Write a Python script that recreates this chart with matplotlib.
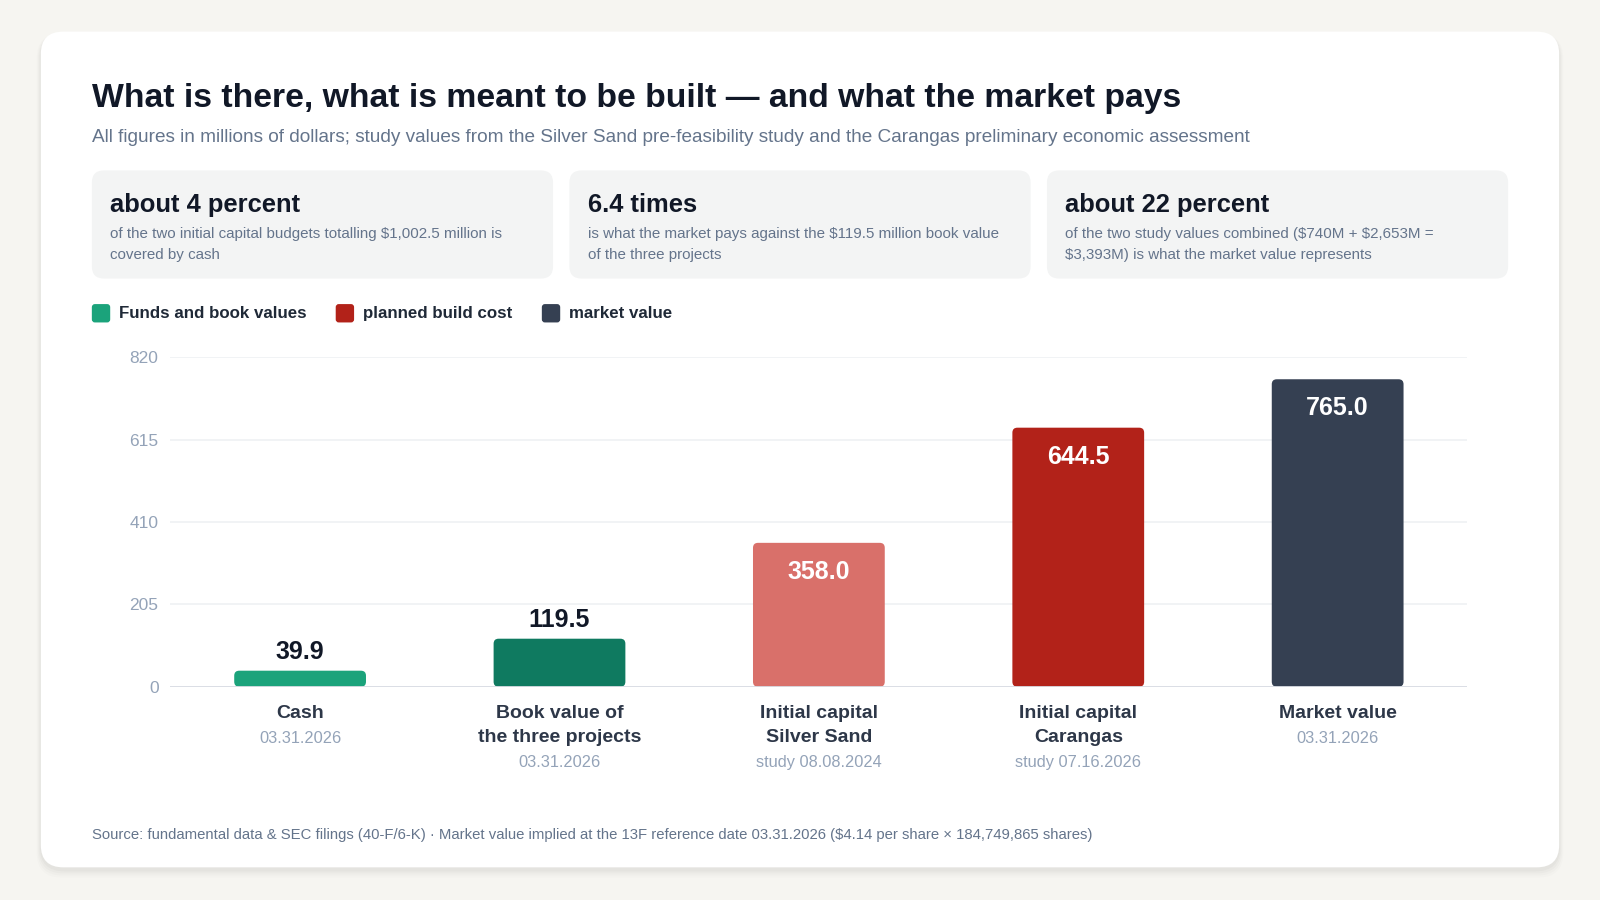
import matplotlib
matplotlib.use("Agg")
import matplotlib.pyplot as plt
from matplotlib.patches import FancyBboxPatch
import matplotlib.transforms as mtransforms

plt.rcParams['font.family'] = ['Liberation Sans', 'DejaVu Sans']

# ---------------- data ----------------
categories = ["Cash", "Book value of\nthe three projects", "Initial capital\nSilver Sand",
              "Initial capital\nCarangas", "Market value"]
dates = ["03.31.2026", "03.31.2026", "study 08.08.2024", "study 07.16.2026", "03.31.2026"]
values = [39.9, 119.5, 358.0, 644.5, 765.0]
bar_colors = ["#1ba37b", "#0f7a60", "#d9706a", "#b22219", "#354052"]
yticks = [0, 205, 410, 615, 820]

legend_labels = ["Funds and book values", "planned build cost", "market value"]
legend_colors = ["#1ba37b", "#b22219", "#354052"]

kpi_heads = ["about 4 percent", "6.4 times", "about 22 percent"]
kpi_bodies = [
    "of the two initial capital budgets totalling $1,002.5 million is\ncovered by cash",
    "is what the market pays against the $119.5 million book value\nof the three projects",
    "of the two study values combined ($740M + $2,653M =\n$3,393M) is what the market value represents",
]

title = "What is there, what is meant to be built \u2014 and what the market pays"
subtitle = ("All figures in millions of dollars; study values from the Silver Sand pre-feasibility "
            "study and the Carangas preliminary economic assessment")
source = ("Source: fundamental data & SEC filings (40-F/6-K) \u00b7 Market value implied at the 13F "
          "reference date 03.31.2026 ($4.14 per share \u00d7 184,749,865 shares)")

# ---------------- figure ----------------
W, H = 1568, 882
fig = plt.figure(figsize=(16, 9), dpi=100)
fig.patch.set_facecolor("#f6f5f1")

bg = fig.add_axes([0, 0, 1, 1])
bg.set_xlim(0, W)
bg.set_ylim(H, 0)
bg.axis("off")
bg.set_zorder(0)

# card shadow
for i, a in enumerate([0.025, 0.02, 0.015, 0.01]):
    off = 2 + i * 2
    bg.add_patch(FancyBboxPatch((40 - off / 2, 31 + 2), 1488 + off, 819 + off,
                                boxstyle="round,pad=0,rounding_size=24",
                                fc="black", ec="none", alpha=a))
bg.add_patch(FancyBboxPatch((40, 31), 1488, 819, boxstyle="round,pad=0,rounding_size=22",
                            fc="white", ec="none"))

# title/subtitle
bg.text(90, 97, title, fontsize=24.3, fontweight="bold", color="#111827", va="center",
        ha="left", parse_math=False)
bg.text(90, 134.5, subtitle, fontsize=13.7, color="#64748b", va="center", ha="left",
        parse_math=False)

# KPI boxes
kpi_x = [90, 558, 1026]
for x0, head, body in zip(kpi_x, kpi_heads, kpi_bodies):
    bg.add_patch(FancyBboxPatch((x0, 167), 452, 106, boxstyle="round,pad=0,rounding_size=12",
                                fc="#f3f4f4", ec="none"))
    bg.text(x0 + 18, 198.5, head, fontsize=18.4, fontweight="bold", color="#111827",
            va="center_baseline", ha="left", parse_math=False)
    for j, line in enumerate(body.split("\n")):
        bg.text(x0 + 18, 229 + j * 21, line, fontsize=10.9, color="#64748b",
                va="center", ha="left", parse_math=False)

# legend
leg_x = [90, 329, 531]
for x0, lab, col in zip(leg_x, legend_labels, legend_colors):
    bg.add_patch(FancyBboxPatch((x0, 298), 18, 18, boxstyle="round,pad=0,rounding_size=3",
                                fc=col, ec="none"))
    bg.text(x0 + 27, 307, lab, fontsize=12.2, fontweight="bold", color="#1f2937",
            va="center", ha="left")

# footnote
bg.text(90, 818, source, fontsize=10.7, color="#64748b", va="center", ha="left",
        parse_math=False)

# ---------------- main axes ----------------
ax_l, ax_r, ax_t, ax_b = 167, 1438, 350, 673
ax = fig.add_axes([ax_l / W, 1 - ax_b / H, (ax_r - ax_l) / W, (ax_b - ax_t) / H])
ax.set_zorder(2)
ax.patch.set_alpha(0)
ax.set_xlim(-0.5, len(values) - 0.5)
ax.set_ylim(0, 820)
for s in ax.spines.values():
    s.set_visible(False)
ax.set_yticks(yticks)
ax.set_yticklabels([str(t) for t in yticks])
ax.tick_params(axis="y", length=0, pad=8.5, labelsize=12.5, labelcolor="#94a3b8")
ax.set_xticks([])
for t in yticks[1:]:
    ax.axhline(t, color="#eef0f3", lw=1.1, zorder=0)
ax.axhline(0, color="#d7dbe2", lw=2, zorder=3)

xs = list(range(len(values)))
bars = ax.bar(xs, values, width=0.508, color=bar_colors)
fig.canvas.draw()
# rounded bar corners
x_per_px = (ax.get_xlim()[1] - ax.get_xlim()[0]) / (ax.get_window_extent().width)
y_per_px = (ax.get_ylim()[1] - ax.get_ylim()[0]) / (ax.get_window_extent().height)
for b in bars:
    b.set_visible(False)
    x, y = b.get_x(), b.get_y()
    w, h = b.get_width(), b.get_height()
    ax.add_patch(FancyBboxPatch((x, y), w, h,
                                boxstyle=f"round,pad=0,rounding_size={5 * x_per_px}",
                                mutation_aspect=y_per_px / x_per_px,
                                fc=b.get_facecolor(), ec="none", zorder=2))

# value labels
for x, v in zip(xs, values):
    if v > 250:
        ax.annotate(f"{v:.1f}", (x, v), xytext=(0, -29), textcoords="offset pixels",
                    ha="center", va="center", fontsize=18, fontweight="bold", color="white",
                    zorder=4)
    else:
        ax.annotate(f"{v:.1f}", (x, v), xytext=(0, 19), textcoords="offset pixels",
                    ha="center", va="center", fontsize=18, fontweight="bold", color="#111827",
                    zorder=4)

# category labels
tr = mtransforms.blended_transform_factory(ax.transData, bg.transData)
for x, cat, d in zip(xs, categories, dates):
    lines = cat.split("\n")
    for j, line in enumerate(lines):
        bg.text(x, 699.5 + j * 23.5, line, transform=tr, ha="center", va="center",
                fontsize=14, fontweight="bold", color="#2d3748")
    bg.text(x, 699.5 + len(lines) * 24, d, transform=tr, ha="center", va="center",
            fontsize=11.8, color="#94a3b8")

fig.savefig("out.png", dpi=100, facecolor=fig.get_facecolor())
